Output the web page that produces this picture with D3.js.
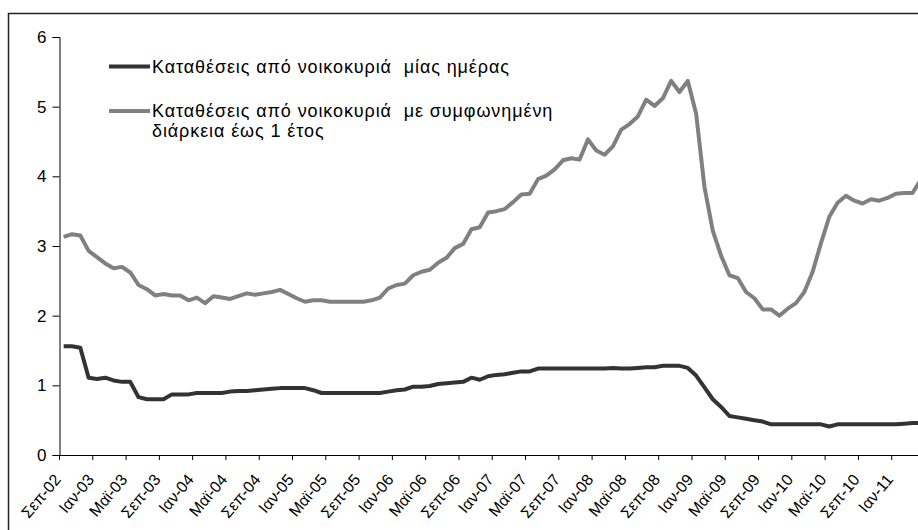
<!DOCTYPE html>
<html>
<head>
<meta charset="utf-8">
<script src="https://cdn.jsdelivr.net/npm/d3@7"></script>
<style>
  html, body { margin: 0; padding: 0; background: #fff; }
  svg { display: block; }
  text { font-family: Arial, "Liberation Sans", sans-serif; }
</style>
</head>
<body>
<div id="chart"></div>
<script>
const categories = [
  "Σεπ-02","Οκτ-02","Νοε-02","Δεκ-02",
  "Ιαν-03","Φεβ-03","Μαρ-03","Απρ-03","Μαϊ-03","Ιουν-03","Ιουλ-03","Αυγ-03","Σεπ-03","Οκτ-03","Νοε-03","Δεκ-03",
  "Ιαν-04","Φεβ-04","Μαρ-04","Απρ-04","Μαϊ-04","Ιουν-04","Ιουλ-04","Αυγ-04","Σεπ-04","Οκτ-04","Νοε-04","Δεκ-04",
  "Ιαν-05","Φεβ-05","Μαρ-05","Απρ-05","Μαϊ-05","Ιουν-05","Ιουλ-05","Αυγ-05","Σεπ-05","Οκτ-05","Νοε-05","Δεκ-05",
  "Ιαν-06","Φεβ-06","Μαρ-06","Απρ-06","Μαϊ-06","Ιουν-06","Ιουλ-06","Αυγ-06","Σεπ-06","Οκτ-06","Νοε-06","Δεκ-06",
  "Ιαν-07","Φεβ-07","Μαρ-07","Απρ-07","Μαϊ-07","Ιουν-07","Ιουλ-07","Αυγ-07","Σεπ-07","Οκτ-07","Νοε-07","Δεκ-07",
  "Ιαν-08","Φεβ-08","Μαρ-08","Απρ-08","Μαϊ-08","Ιουν-08","Ιουλ-08","Αυγ-08","Σεπ-08","Οκτ-08","Νοε-08","Δεκ-08",
  "Ιαν-09","Φεβ-09","Μαρ-09","Απρ-09","Μαϊ-09","Ιουν-09","Ιουλ-09","Αυγ-09","Σεπ-09","Οκτ-09","Νοε-09","Δεκ-09",
  "Ιαν-10","Φεβ-10","Μαρ-10","Απρ-10","Μαϊ-10","Ιουν-10","Ιουλ-10","Αυγ-10","Σεπ-10","Οκτ-10","Νοε-10","Δεκ-10",
  "Ιαν-11","Φεβ-11","Μαρ-11","Απρ-11"
];

const tickLabels = [
  "Σεπ-02","Ιαν-03","Μαϊ-03","Σεπ-03","Ιαν-04","Μαϊ-04","Σεπ-04","Ιαν-05","Μαϊ-05",
  "Σεπ-05","Ιαν-06","Μαϊ-06","Σεπ-06","Ιαν-07","Μαϊ-07","Σεπ-07","Ιαν-08","Μαϊ-08",
  "Σεπ-08","Ιαν-09","Μαϊ-09","Σεπ-09","Ιαν-10","Μαϊ-10","Σεπ-10","Ιαν-11"
];

const yTicks = [0, 1, 2, 3, 4, 5, 6];

const seriesNames = [
  "Καταθέσεις από νοικοκυριά  μίας ημέρας",
  ["Καταθέσεις από νοικοκυριά  με συμφωνημένη", "διάρκεια έως 1 έτος"]
];

const overnight = [
  1.56,1.56,1.54,1.11,1.09,1.11,1.07,1.05,1.05,0.83,0.80,0.80,0.80,0.87,0.87,0.87,
  0.89,0.89,0.89,0.89,0.91,0.92,0.92,0.93,0.94,0.95,0.96,0.96,0.96,0.96,0.93,0.89,
  0.89,0.89,0.89,0.89,0.89,0.89,0.89,0.91,0.93,0.94,0.98,0.98,0.99,1.02,1.03,1.04,
  1.05,1.11,1.08,1.13,1.15,1.16,1.18,1.20,1.20,1.24,1.24,1.24,1.24,1.24,1.24,1.24,
  1.24,1.24,1.25,1.24,1.24,1.25,1.26,1.26,1.28,1.28,1.28,1.25,1.14,0.97,0.80,0.69,
  0.56,0.54,0.52,0.50,0.48,0.44,0.44,0.44,0.44,0.44,0.44,0.44,0.41,0.44,0.44,0.44,
  0.44,0.44,0.44,0.44,0.44,0.45,0.46,0.46
];

const upToOneYear = [
  3.13,3.17,3.15,2.93,2.84,2.75,2.68,2.70,2.62,2.44,2.38,2.29,2.31,2.29,2.29,2.22,
  2.26,2.18,2.28,2.26,2.24,2.28,2.32,2.30,2.32,2.34,2.37,2.31,2.25,2.20,2.22,2.22,
  2.20,2.20,2.20,2.20,2.20,2.22,2.26,2.39,2.44,2.46,2.58,2.63,2.66,2.76,2.83,2.97,
  3.03,3.24,3.27,3.48,3.50,3.53,3.63,3.74,3.75,3.96,4.01,4.10,4.23,4.26,4.24,4.53,
  4.37,4.31,4.43,4.67,4.75,4.86,5.10,5.01,5.12,5.37,5.21,5.37,4.90,3.85,3.22,2.86,
  2.58,2.54,2.34,2.25,2.09,2.09,2.00,2.10,2.18,2.34,2.63,3.04,3.42,3.62,3.72,3.65,
  3.61,3.67,3.65,3.69,3.75,3.76,3.76,3.95
];

const W = 918, H = 530;
const plotLeft = 59.5, plotTop = 37, plotBottom = 455, step = 8.322;

const svg = d3.select("#chart").append("svg")
  .attr("width", W).attr("height", H);

svg.append("rect").attr("width", W).attr("height", H).attr("fill", "#fff");

// outer chart frame (clipped on right/bottom as in reference)
svg.append("rect")
  .attr("x", 8.5).attr("y", 13.5)
  .attr("width", 1000).attr("height", 600)
  .attr("fill", "none").attr("stroke", "#222").attr("stroke-width", 1.5);

const x = d3.scaleBand()
  .domain(categories)
  .range([plotLeft, plotLeft + categories.length * step])
  .paddingInner(0).paddingOuter(0);
const bw = x.bandwidth();

const y = d3.scaleLinear().domain([0, 6]).range([plotBottom, plotTop]);

// Y axis
const yAxis = svg.append("g")
  .attr("transform", `translate(${plotLeft},0)`)
  .call(d3.axisLeft(y).tickValues(yTicks).tickSize(7).tickPadding(6).tickFormat(d3.format("d")));
yAxis.select(".domain").attr("stroke", "#000").attr("stroke-width", 1);
yAxis.selectAll(".tick line").attr("stroke", "#000");
yAxis.selectAll(".tick text")
  .attr("font-size", "17px").attr("fill", "#000")
  .attr("font-family", "Arial, 'Liberation Sans', sans-serif");

// X axis
const xAxis = svg.append("g")
  .attr("transform", `translate(0,${plotBottom})`)
  .call(d3.axisBottom(x).tickValues(tickLabels).tickSize(5).tickSizeOuter(0));
xAxis.select(".domain").attr("stroke", "#000").attr("stroke-width", 1);
xAxis.selectAll(".tick line")
  .attr("stroke", "#000")
  .attr("transform", `translate(${-bw / 2},0)`);
xAxis.selectAll(".tick text")
  .attr("font-size", "16px").attr("fill", "#000")
  .attr("font-family", "Arial, 'Liberation Sans', sans-serif")
  .attr("text-anchor", "end")
  .attr("dy", null)
  .attr("y", 0)
  .attr("transform", "translate(-2,25) rotate(-50)");

const line = d3.line()
  .x((d, i) => x(categories[i]) + bw / 2)
  .y(d => y(d));

svg.append("path")
  .datum(upToOneYear)
  .attr("d", line)
  .attr("fill", "none").attr("stroke", "#808080")
  .attr("stroke-width", 4).attr("stroke-linejoin", "round");

svg.append("path")
  .datum(overnight)
  .attr("d", line)
  .attr("fill", "none").attr("stroke", "#333333")
  .attr("stroke-width", 4).attr("stroke-linejoin", "round");

// Legend
const lg = svg.append("g");
lg.append("line").attr("x1", 109).attr("x2", 150).attr("y1", 66.5).attr("y2", 66.5)
  .attr("stroke", "#333333").attr("stroke-width", 4);
lg.append("text").attr("x", 152).attr("y", 73)
  .attr("font-size", "18px").attr("fill", "#000")
  .attr("letter-spacing", "0.9px")
  .style("white-space", "pre")
  .text(seriesNames[0]);

lg.append("line").attr("x1", 109).attr("x2", 150).attr("y1", 111).attr("y2", 111)
  .attr("stroke", "#808080").attr("stroke-width", 4);
const t2 = lg.append("text").attr("x", 152).attr("y", 117)
  .attr("font-size", "18px").attr("fill", "#000")
  .attr("letter-spacing", "0.9px")
  .style("white-space", "pre");
t2.selectAll("tspan").data(seriesNames[1]).join("tspan")
  .attr("x", 152).attr("dy", (d, i) => i === 0 ? 0 : 20)
  .text(d => d);
</script>
</body>
</html>
